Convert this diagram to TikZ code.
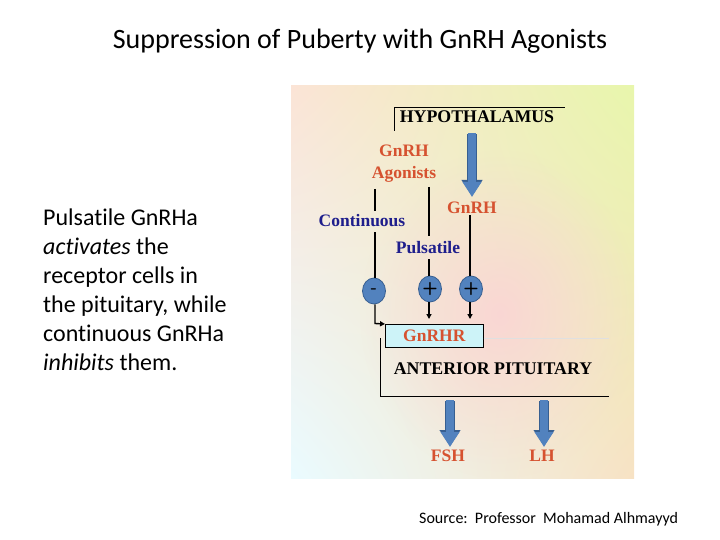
\documentclass[tikz,border=0pt]{standalone}
\usepackage{fontspec}
\setmainfont{Carlito}[Ligatures=NoCommon]
\newfontfamily\diagfont{Liberation Serif}
\usetikzlibrary{arrows.meta,fadings,shadings,shapes.geometric}
\definecolor{hred}{RGB}{214,82,48}
\definecolor{hnavy}{RGB}{30,30,140}
\definecolor{hblue}{RGB}{82,130,190}
\definecolor{hblueline}{RGB}{55,95,145}
\definecolor{boxcyan}{RGB}{205,243,248}
\definecolor{bgtl}{RGB}{251,228,214}
\definecolor{bgtr}{RGB}{232,246,172}
\definecolor{bgbl}{RGB}{234,251,255}
\definecolor{bgbr}{RGB}{247,226,196}
\definecolor{bgpink}{RGB}{251,212,212}
\tikzfading[name=pinkglow, inner color=transparent!0, outer color=transparent!100]
\tikzset{
  lbl/.style={font=\diagfont\bfseries\fontsize{17.5}{21}\selectfont, inner sep=1pt},
  redlbl/.style={lbl, text=hred},
  navylbl/.style={lbl, text=hnavy},
  blklbl/.style={lbl, text=black, font=\diagfont\bfseries\fontsize{17.8}{21}\selectfont},
  sign/.style={ellipse, draw=hblueline, line width=0.8pt, fill=hblue, minimum width=23pt, minimum height=26pt, inner sep=0pt, font=\sffamily\bfseries\fontsize{18}{18}\selectfont},
  conn/.style={line width=1.4pt, black},
  connarrow/.style={conn, -{Triangle[length=5pt,width=5pt]}},
  bigarrow/.style={line width=8pt, hblue, -{Triangle[length=15pt,width=18pt]}},
  bigarrowedge/.style={line width=9.6pt, hblueline, -{Triangle[length=16pt,width=20pt]}},
}
\begin{document}
\begin{tikzpicture}[x=1pt,y=-1pt]
\useasboundingbox (0,0) rectangle (720,540);
% background panel
\shade[upper left=bgtl, upper right=bgtr, lower left=bgbl, lower right=bgbr] (291,86) rectangle (634,478);
\fill[bgpink, path fading=pinkglow, fill opacity=0.9] (360,150) rectangle (640,478);
% title
\node[font=\fontsize{28}{32}\selectfont] (title) at (360,41) {Suppression of Puberty with GnRH Agonists};
% left text
\node[font=\fontsize{24}{29}\selectfont, align=left, anchor=north west, inner sep=0pt] (desc) at (43,209)
  {Pulsatile GnRHa\\ \textit{activates} the\\ receptor cells in\\ the pituitary, while\\ continuous GnRHa\\ \textit{inhibits} them.};
% source
\node[font=\fontsize{16}{18}\selectfont, anchor=west, inner sep=0pt] (src) at (419,519) {Source:\ \ Professor\ \ Mohamad Alhmayyd};
% hypothalamus
\node[blklbl] (hyp) at (477,117) {HYPOTHALAMUS};
\draw[line width=0.8pt] (394,131) -- (394,107) -- (565,107);
% agonists
\node[redlbl, align=center, font=\diagfont\bfseries\fontsize{17.5}{22}\selectfont] (ag) at (404,164) {GnRH\\Agonists};
\coordinate (hyparrowtop) at (472,134);
\coordinate (hyparrowbot) at (472,197);
\draw[bigarrowedge] (hyparrowtop) -- ([yshift=1pt]hyparrowbot);
\draw[bigarrow] ([yshift=0.8pt]hyparrowtop) -- (hyparrowbot);
\node[redlbl] (gn) at (472,208) {GnRH};
\node[navylbl] (cont) at (362,221) {Continuous};
\node[navylbl] (puls) at (428,248) {Pulsatile};
% signs
\node[sign] (m) at (374,291) {-};
\node[sign] (p1) at (430,289) {+};
\node[sign] (p2) at (471,289) {+};
% vertical connectors
\draw[conn] (375,189) -- (375,211);
\draw[conn] (375,232) -- (m.north -| 375,0);
\draw[conn] (429,187) -- (429,236);
\draw[conn] (429,259) -- (p1.north -| 429,0);
\draw[conn] (gn.south -| 470,0) -- (p2.north -| 470,0);
% receptor box
\node[draw=black, line width=0.6pt, fill=boxcyan, minimum width=98pt, minimum height=23pt, inner sep=0pt, anchor=north west, font=\diagfont\bfseries\fontsize{17.5}{21}\selectfont, text=hred] (gnrhr) at (385,324) {GnRHR};
\draw[connarrow] (p1.south -| 429,0) -- (429,319);
\draw[connarrow] (p2.south -| 470,0) -- (470,319);
\draw[connarrow] (m.south -| 375,0) -- (375,323.5) -- (gnrhr.north west);
% anterior pituitary
\draw[line width=0.8pt] (380,338) -- (380,396) -- (609,396);
\draw[line width=0.5pt, black!12] (gnrhr.east |- 0,338) -- (609,338);
\node[blklbl] (ap) at (493,369) {ANTERIOR PITUITARY};
% FSH / LH
\coordinate (fshtop) at (450,401);
\coordinate (fshbot) at (450,447);
\coordinate (lhtop) at (544,401);
\coordinate (lhbot) at (544,447);
\draw[bigarrowedge] (fshtop) -- ([yshift=1pt]fshbot);
\draw[bigarrow] ([yshift=0.8pt]fshtop) -- (fshbot);
\draw[bigarrowedge] (lhtop) -- ([yshift=1pt]lhbot);
\draw[bigarrow] ([yshift=0.8pt]lhtop) -- (lhbot);
\node[redlbl] (fsh) at (448,456) {FSH};
\node[redlbl] (lh) at (542,456) {LH};
\end{tikzpicture}
\end{document}
